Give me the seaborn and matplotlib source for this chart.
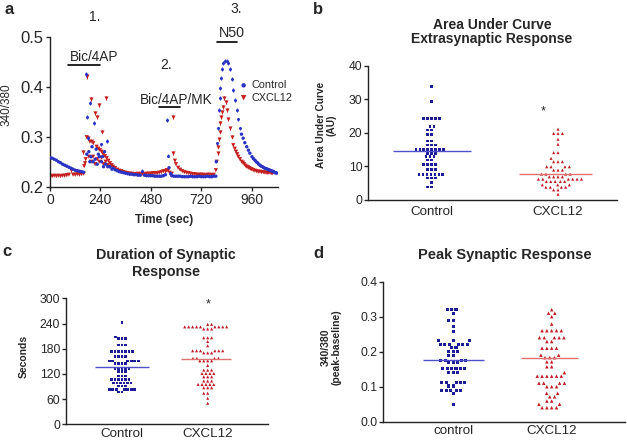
import matplotlib
matplotlib.use("Agg")
import matplotlib.pyplot as plt
import seaborn as sns
import pandas as pd

# ---------------- data ----------------
# Panel a : time course (340/380 ratio)
ctrl_t = [0, 10, 20, 30, 40, 50, 60, 70, 80, 90, 100, 110, 120, 130, 140, 150, 160,
          175, 185, 190, 195, 200, 205, 215, 220, 225, 230, 235, 245, 250, 255, 260, 265, 275, 285, 295,
          300, 310, 320, 330, 340, 350, 360, 370, 380, 390, 400, 410, 420, 430, 450, 460, 470,
          480, 490, 500, 510, 520, 530, 540, 550, 567, 575, 580, 590, 600, 610, 620, 630, 640,
          650, 660, 670, 680, 690, 700, 710, 720, 730, 740, 750, 760, 770, 780, 790, 792,
          912, 920, 928, 937, 945, 952, 962, 969, 976, 982, 988, 994, 1000, 1006, 1012, 1018, 1024,
          1030, 1036, 1042, 1048, 1054, 1060, 1066, 1071, 1076, 1080]
ctrl_v = [0.258, 0.257, 0.255, 0.253, 0.250, 0.248, 0.245, 0.243, 0.241, 0.239, 0.237, 0.235, 0.233, 0.232, 0.231, 0.230, 0.229,
          0.265, 0.270, 0.250, 0.260, 0.280, 0.250, 0.255, 0.275, 0.245, 0.265, 0.260, 0.250, 0.260, 0.240, 0.270, 0.245, 0.240, 0.240, 0.235,
          0.237, 0.234, 0.232, 0.230, 0.229, 0.228, 0.227, 0.226, 0.225, 0.225, 0.224, 0.224, 0.223, 0.223, 0.223, 0.222, 0.222,
          0.222, 0.222, 0.221, 0.221, 0.221, 0.221, 0.222, 0.224, 0.238, 0.226, 0.222, 0.221, 0.221, 0.221, 0.221, 0.220, 0.220,
          0.220, 0.220, 0.221, 0.220, 0.220, 0.220, 0.221, 0.220, 0.220, 0.220, 0.221, 0.220, 0.220, 0.221, 0.221, 0.250,
          0.305, 0.297, 0.288, 0.280, 0.273, 0.267, 0.260, 0.256, 0.253, 0.250, 0.248, 0.245, 0.243, 0.241, 0.240, 0.238, 0.237,
          0.236, 0.235, 0.234, 0.233, 0.232, 0.231, 0.230, 0.228, 0.228, 0.227]
ctrl_err_t = [171, 175, 180, 189, 211, 245, 271, 440, 555, 560,
              797, 800, 804, 808, 812, 816, 821, 826, 833, 841, 849, 857, 865, 873, 881, 889, 897, 905]
ctrl_err_v = [0.425, 0.339, 0.297, 0.367, 0.328, 0.285, 0.292, 0.232, 0.333, 0.262,
              0.287, 0.317, 0.353, 0.377, 0.397, 0.417, 0.435, 0.447, 0.452, 0.452, 0.447, 0.435, 0.415, 0.393, 0.373, 0.353, 0.335, 0.317]
ctrl_err_e = [0.005, 0.004, 0.004, 0.004, 0.004, 0.003, 0.004, 0.003, 0.004, 0.003,
              0.003, 0.003, 0.004, 0.004, 0.004, 0.004, 0.004, 0.004, 0.004, 0.004, 0.004, 0.004, 0.004, 0.004, 0.004, 0.004, 0.003, 0.003]

cx_t = [0, 10, 20, 30, 40, 50, 60, 70, 80, 90, 110, 120, 130, 140, 150, 160,
        163, 167, 170, 175, 185, 190, 196, 200, 205, 206, 215, 222, 225, 230, 235, 238, 245, 246, 254, 255,
        262, 265, 270, 275, 278, 285, 286, 294,
        300, 310, 320, 330, 340, 350, 360, 370, 380, 390, 400, 410, 420, 430, 440, 450, 460, 470,
        480, 490, 500, 510, 520, 530, 540, 555, 562, 570, 580, 595, 600, 610, 620, 630, 640,
        650, 660, 670, 680, 690, 700, 710, 720, 730, 740, 750, 760, 770, 780, 790, 794,
        873, 880, 886, 892, 897, 905, 913, 919, 925, 931, 937, 943, 948, 954, 960, 968, 976, 984, 992,
        1000, 1008, 1016, 1024, 1030, 1036, 1042, 1048, 1054, 1060]
cx_v = [0.222, 0.221, 0.222, 0.221, 0.222, 0.221, 0.222, 0.222, 0.223, 0.224, 0.224, 0.224, 0.225, 0.224, 0.225, 0.226,
        0.241, 0.247, 0.255, 0.299, 0.260, 0.290, 0.250, 0.290, 0.260, 0.287, 0.245, 0.280, 0.255, 0.276, 0.250, 0.273, 0.258, 0.270, 0.265, 0.245,
        0.261, 0.250, 0.257, 0.243, 0.252, 0.240, 0.247, 0.243,
        0.240, 0.237, 0.234, 0.232, 0.231, 0.229, 0.228, 0.227, 0.226, 0.226, 0.225, 0.225, 0.226, 0.225, 0.226, 0.225, 0.226, 0.226,
        0.226, 0.227, 0.227, 0.227, 0.228, 0.229, 0.231, 0.233, 0.232, 0.228, 0.226, 0.252, 0.245, 0.238, 0.234, 0.231, 0.229,
        0.228, 0.227, 0.226, 0.225, 0.225, 0.224, 0.224, 0.224, 0.224, 0.223, 0.224, 0.224, 0.223, 0.224, 0.233, 0.250,
        0.283, 0.276, 0.270, 0.265, 0.260, 0.255, 0.250, 0.248, 0.245, 0.242, 0.240, 0.239, 0.237, 0.236, 0.235, 0.233, 0.232, 0.231, 0.230,
        0.230, 0.229, 0.229, 0.228, 0.228, 0.228, 0.228, 0.228, 0.227, 0.227]
cx_err_t = [100, 159, 178, 182, 194, 214, 225, 233, 248, 267, 548, 584, 587,
            798, 801, 805, 808, 811, 814, 819, 825, 830, 838, 844, 849, 857, 865]
cx_err_v = [0.233, 0.270, 0.421, 0.297, 0.375, 0.348, 0.339, 0.363, 0.310, 0.378, 0.231, 0.339, 0.267,
            0.267, 0.280, 0.295, 0.310, 0.327, 0.339, 0.350, 0.360, 0.377, 0.370, 0.353, 0.335, 0.317, 0.300]
cx_err_e = [0.003, 0.004, 0.005, 0.004, 0.004, 0.004, 0.004, 0.004, 0.003, 0.004, 0.003, 0.004, 0.004,
            0.003, 0.003, 0.003, 0.003, 0.004, 0.004, 0.004, 0.004, 0.004, 0.004, 0.004, 0.003, 0.003, 0.003]

time_ticks = [0, 240, 480, 720, 960]
ratio_ticks = [0.2, 0.3, 0.4, 0.5]

# Panel b : area under curve
groups_bc = ["Control", "CXCL12"]
auc_control = [33.9, 29.3, 24.3, 24.3, 24.3, 24.3, 24.3, 21.8, 21.8, 20.8, 20.8, 19.5, 19.5,
               17.6, 17.6, 16.4, 16.4, 16.4, 15.1, 15.1, 15.1, 15.1, 15.1, 15.1, 15.1, 15.1,
               13.9, 13.9, 13.9, 12.9, 12.9, 12.9, 11.9, 11.9, 10.6, 10.6, 10.6, 10.6,
               9.1, 9.1, 9.1, 7.6, 7.6, 7.6, 7.6, 7.6, 7.6, 7.6, 6.5, 6.5, 6.5, 5.3, 3.9, 3.9]
auc_cxcl12 = [21.1, 19.8, 19.8, 19.8, 18.1, 16.6, 14.1, 14.1, 12.4, 11.4, 11.4, 11.4,
              9.9, 9.9, 9.9, 9.9, 8.9, 8.9, 8.9, 7.7, 7.7, 7.7, 7.7, 6.9, 6.9, 6.9, 6.9,
              6.2, 6.2, 6.2, 6.2, 6.2, 6.2, 5.5, 5.5, 5.5, 5.5, 5.5, 4.5, 4.5, 4.5,
              3.8, 3.8, 3.8, 3.8, 3.0, 3.0, 1.7]
auc_means = [14.5, 7.6]
auc_ticks = [0, 10, 20, 30, 40]

# Panel c : duration of synaptic response
dur_control = [243, 208, 204, 204, 204, 189, 189, 189, 173, 173, 173, 173, 173, 173, 173,
               161, 161, 161, 161, 151, 151, 151, 151, 151, 151, 145, 145, 145, 145,
               133, 133, 133, 133, 133, 125, 125, 125, 115, 115, 115,
               107, 107, 107, 107, 107, 107, 98, 98, 98, 98, 98, 98, 91, 91, 91,
               83, 83, 83, 83, 83, 83, 83, 77, 77]
dur_cxcl12 = [238, 238, 232, 232, 232, 232, 232, 232, 232, 232, 232, 227, 227, 227,
              206, 206, 206, 197, 187, 175, 175, 175, 175, 175, 175, 170, 170, 170,
              157, 157, 157, 157, 151, 151, 151, 151, 140, 129, 129, 129, 121, 121, 121, 121,
              113, 113, 113, 103, 103, 103, 95, 95, 95, 95, 95, 87, 87, 87, 74, 74, 62, 50]
dur_means = [136, 155.5]
dur_ticks = [0, 60, 120, 180, 240, 300]

# Panel d : peak synaptic response
groups_d = ["control", "CXCL12"]
peak_control = [0.321, 0.321, 0.321, 0.31, 0.29, 0.29, 0.271, 0.259, 0.231, 0.231, 0.231,
                0.221, 0.221, 0.221, 0.221, 0.221, 0.221, 0.211, 0.211, 0.2, 0.2, 0.2, 0.188, 0.188,
                0.176, 0.176, 0.176, 0.176, 0.17, 0.17, 0.17, 0.151, 0.151, 0.151, 0.151, 0.151, 0.151,
                0.14, 0.14, 0.14, 0.111, 0.111, 0.111, 0.111, 0.111, 0.102, 0.102,
                0.09, 0.09, 0.09, 0.09, 0.09, 0.081, 0.05]
peak_cxcl12 = [0.32, 0.31, 0.31, 0.3, 0.279, 0.26, 0.26, 0.26, 0.26, 0.26, 0.24, 0.24, 0.24, 0.24, 0.24,
               0.229, 0.229, 0.21, 0.21, 0.21, 0.21, 0.19, 0.19, 0.183, 0.183, 0.183, 0.171, 0.171,
               0.157, 0.157, 0.14, 0.13, 0.13, 0.13, 0.13, 0.13, 0.13, 0.11, 0.11, 0.11, 0.11,
               0.1, 0.1, 0.1, 0.081, 0.081, 0.071, 0.071, 0.059, 0.059, 0.05, 0.05, 0.04, 0.04, 0.04, 0.04]
peak_means = [0.175, 0.181]
peak_ticks = [0.0, 0.1, 0.2, 0.3, 0.4]

# ---------------- style ----------------
sns.set_theme(style="ticks")
plt.rcParams["font.family"] = ["Liberation Sans", "DejaVu Sans"]
plt.rcParams["axes.linewidth"] = 1.0
plt.rcParams["axes.edgecolor"] = "#222222"

BLUE_A = "#2a33c4"
RED_A = "#c41e1e"
BLUE = "#1c1c96"
RED = "#bf1b25"
BLUE_LINE = "#5050cc"
RED_LINE = "#e07272"

W, H = 627, 441
fig = plt.figure(figsize=(W / 100, H / 100), dpi=100)


def px_axes(left, right, top, bottom):
    return fig.add_axes([left / W, (H - bottom) / H, (right - left) / W, (bottom - top) / H])


def ftext(x, y, s, **kw):
    fig.text(x / W, (H - y) / H, s, **kw)


# ---------------- panel a ----------------
ax = px_axes(50, 278, 36.7, 186.7)
sns.scatterplot(x=ctrl_t, y=ctrl_v, ax=ax, color=BLUE_A, marker="o", s=6, edgecolor="none",
                label="Control", zorder=3)
sns.scatterplot(x=cx_t, y=cx_v, ax=ax, color=RED_A, marker="v", s=9, edgecolor="none",
                label="CXCL12", zorder=2)
ax.errorbar(ctrl_err_t, ctrl_err_v, yerr=ctrl_err_e, fmt="o", ms=2.2, mew=0, color=BLUE_A,
            elinewidth=0.7, capsize=1.6, capthick=0.7, zorder=3)
ax.errorbar(cx_err_t, cx_err_v, yerr=cx_err_e, fmt="v", ms=3, mew=0, color=RED_A,
            elinewidth=0.7, capsize=1.6, capthick=0.7, zorder=2)
ax.set_xlim(0, 1086)
ax.set_ylim(0.2, 0.5)
ax.set_xticks(time_ticks)
ax.set_yticks(ratio_ticks)
ax.set_yticklabels([f"{v:.1f}" for v in ratio_ticks])
ax.tick_params(axis="y", labelsize=12, length=3, pad=1.5, width=1)
ax.tick_params(axis="x", labelsize=10, length=3, pad=1.5, width=1)
ax.set_xlabel("")
ax.set_ylabel("")
sns.despine(ax=ax)
ax.legend(loc="upper left", bbox_to_anchor=(0.835, 0.71), frameon=False, fontsize=7.8,
          handlelength=0.6, handletextpad=0.4, borderpad=0, labelspacing=0.22,
          markerscale=1.3, borderaxespad=0)

# stimulus annotations: bar x-range, bar level, label, label x, label level, number, number x, number level
annotations = [
    (87, 238, 0.443, "Bic/4AP", 212, 0.46, "1.", 214, 0.54),
    (521, 619, 0.359, "Bic/4AP/MK", 603, 0.373, "2.", 551, 0.443),
    (794, 892, 0.49, "N50", 865, 0.507, "3.", 889, 0.555),
]
for (x0, x1, yl, lab, xt, yt, num, xn, yn) in annotations:
    ax.plot([x0, x1], [yl, yl], color="black", lw=1.2, clip_on=False)
    ax.text(xt, yt, lab, ha="center", va="center",
            fontsize=10.3 if lab == "N50" else 9.8, clip_on=False)
    ax.text(xn, yn, num, ha="center", va="center", fontsize=10, clip_on=False)

ftext(6.7, 105, "340/380", rotation=90, ha="center", va="center", fontsize=8.5)
ftext(164, 220, "Time (sec)", ha="center", va="center", fontsize=8.5, fontweight="bold")


# ---------------- categorical helper ----------------
def dot_panel(ax, cats, a_vals, b_vals, means, ticks, size_pt, lw_pad, tick_fmt):
    df = pd.DataFrame({"group": [cats[0]] * len(a_vals) + [cats[1]] * len(b_vals),
                       "value": list(a_vals) + list(b_vals)})
    sns.swarmplot(data=df[df.group == cats[0]], x="group", y="value", order=cats, ax=ax,
                  color=BLUE, marker="s", size=size_pt, linewidth=lw_pad, edgecolor="none",
                  warn_thresh=1)
    sns.swarmplot(data=df[df.group == cats[1]], x="group", y="value", order=cats, ax=ax,
                  color=RED, marker="^", size=size_pt + 0.3, linewidth=lw_pad, edgecolor="none",
                  warn_thresh=1)
    ax.hlines(means[0], -0.31, 0.31, color=BLUE_LINE, lw=1.0, zorder=5)
    ax.hlines(means[1], 0.69, 1.27, color=RED_LINE, lw=1.0, zorder=5)
    ax.set_ylim(ticks[0], ticks[-1])
    ax.set_yticks(ticks)
    ax.set_yticklabels([tick_fmt(t) for t in ticks])
    ax.set_xlabel("")
    ax.set_ylabel("")
    ax.tick_params(axis="y", labelsize=8.8, length=3, pad=1, width=1)
    ax.tick_params(axis="x", labelsize=9.6, length=0, pad=2.5)
    sns.despine(ax=ax)


# ---------------- panel b ----------------
axb = px_axes(368, 617, 65.7, 200)
dot_panel(axb, groups_bc, auc_control, auc_cxcl12, auc_means, auc_ticks, 1.9, 0.8,
          lambda t: f"{t:d}")
axb.tick_params(axis="x", pad=4)
axb.set_xlim(-0.504, 1.467)
axb.text(0.88, 26.3, "*", ha="center", va="center", fontsize=9)
ftext(492, 32, "Area Under Curve\nExtrasynaptic Response", ha="center", va="center",
      fontsize=10, fontweight="bold", linespacing=1.05)
ftext(326.5, 125, "Area Under Curve\n(AU)", rotation=90, ha="center", va="center",
      fontsize=7.3, fontweight="bold", linespacing=1.1)

# ---------------- panel c ----------------
axc = px_axes(65.7, 268, 298.3, 424.3)
dot_panel(axc, groups_bc, dur_control, dur_cxcl12, dur_means, dur_ticks, 1.9, 0.5,
          lambda t: f"{t:d}")
axc.set_xlim(-0.657, 1.704)
axc.text(1.0, 285.7, "*", ha="center", va="center", fontsize=9)
ftext(166, 263.5, "Duration of Synaptic\nResponse", ha="center", va="center",
      fontsize=10.3, fontweight="bold", linespacing=1.2)
ftext(24, 356, "Seconds", rotation=90, ha="center", va="center", fontsize=7.5, fontweight="bold")

# ---------------- panel d ----------------
axd = px_axes(383.3, 625, 281.7, 421.7)
dot_panel(axd, groups_d, peak_control, peak_cxcl12, peak_means, peak_ticks, 2.2, 0.8,
          lambda t: f"{t:.1f}")
axd.set_xlim(-0.711, 1.745)
ftext(505, 255, "Peak Synaptic Response", ha="center", va="center", fontsize=10.5,
      fontweight="bold")
ftext(331.5, 347, "340/380\n(peak-baseline)", rotation=90, ha="center", va="center",
      fontsize=7.5, fontweight="bold", linespacing=1.1)

# panel letters
for x, y, s in [(9, 10, "a"), (318, 10, "b"), (7, 251, "c"), (318, 253, "d")]:
    ftext(x, y, s, ha="center", va="center", fontsize=12, fontweight="bold")

fig.savefig("out.png", dpi=100)
